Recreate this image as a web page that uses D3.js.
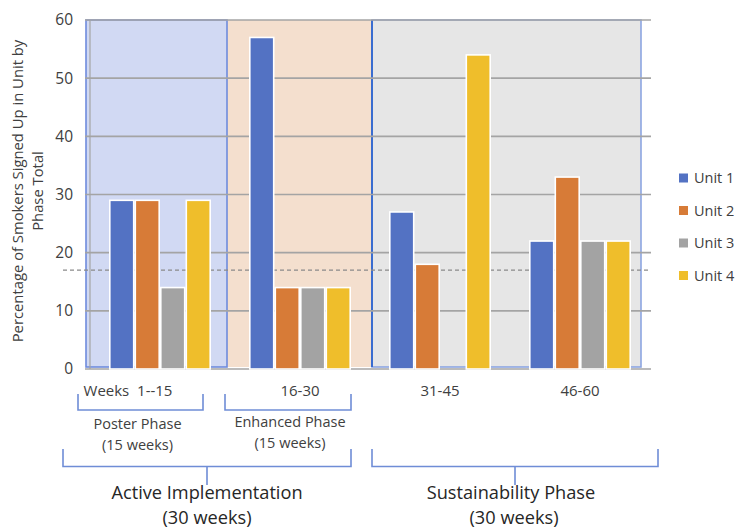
<!DOCTYPE html>
<html>
<head>
<meta charset="utf-8">
<script src="https://cdn.jsdelivr.net/npm/d3@7"></script>
<style>
  html, body { margin: 0; padding: 0; background: #ffffff; }
  svg { display: block; font-family: "Open Sans", "Noto Sans", sans-serif; }
</style>
</head>
<body>
<svg id="chart" width="740" height="530"></svg>
<script>
// Sign-up share per unit, by 15-week period
const categories = ["Weeks  1--15", "16-30", "31-45", "46-60"];
const units = ["Unit 1", "Unit 2", "Unit 3", "Unit 4"];
const unit1 = [29, 57, 27, 22];
const unit2 = [29, 14, 18, 33];
const unit3 = [14, 14, 0, 22];
const unit4 = [29, 14, 54, 22];
const unitColors = ["#5372c3", "#d77b37", "#a3a3a3", "#efbe2b"];
const yTicks = [0, 10, 20, 30, 40, 50, 60];
const referenceLevel = 17;

// Background phase shading
const phaseNames = ["Poster", "Enhanced", "Sustainability"];
const phaseFills = ["#d1d9f3", "#f4dfce", "#e6e6e6"];

// Bracket annotations beneath the axis
const subPhaseLabels = [["Poster Phase", "(15 weeks)"], ["Enhanced Phase", "(15 weeks)"]];
const mainPhaseLabels = [["Active Implementation", "(30 weeks)"], ["Sustainability Phase", "(30 weeks)"]];

const series = units.map((u, i) => ({ unit: u, values: [unit1, unit2, unit3, unit4][i], color: unitColors[i] }));

const svg = d3.select("#chart");
const plotLeft = 90, plotRight = 650, plotTop = 20, plotBottom = 369;

const x = d3.scaleBand().domain(categories).range([plotLeft, plotRight]);
// the four unit bars sit in the middle ~100px of each category slot
const xInner = d3.scaleBand().domain(units).range([19, x.bandwidth() - 19]);
const y = d3.scaleLinear().domain([0, 60]).range([plotBottom, plotTop]);

// Phase extents in pixels, derived from the category scale
const phaseEdges = [
  [x(categories[0]) - 4, x(categories[1]) - 3],
  [x(categories[1]) - 3, x(categories[2]) + 2],
  [x(categories[2]) + 2, x(categories[3]) + x.bandwidth() - 9]
];
const shadeTop = y(60), shadeBottom = y(0) - 2;

const phaseG = svg.append("g");
phaseNames.forEach((p, i) => {
  phaseG.append("rect")
    .attr("x", phaseEdges[i][0]).attr("y", shadeTop)
    .attr("width", phaseEdges[i][1] - phaseEdges[i][0]).attr("height", shadeBottom - shadeTop)
    .attr("fill", phaseFills[i]);
});
// Phase borders
const borderG = svg.append("g").attr("fill", "none");
borderG.append("rect").attr("x", phaseEdges[0][0]).attr("y", shadeTop)
  .attr("width", phaseEdges[0][1] - phaseEdges[0][0]).attr("height", shadeBottom - shadeTop)
  .attr("stroke", "#6f8bdc").attr("stroke-width", 1.6);
borderG.append("rect").attr("x", phaseEdges[2][0]).attr("y", shadeTop)
  .attr("width", phaseEdges[2][1] - phaseEdges[2][0]).attr("height", shadeBottom - shadeTop)
  .attr("stroke", "#8ca5e2").attr("stroke-width", 1.6);
borderG.append("line").attr("x1", phaseEdges[2][0]).attr("x2", phaseEdges[2][0]).attr("y1", shadeTop).attr("y2", shadeBottom)
  .attr("stroke", "#2f66cf").attr("stroke-width", 1.8);

// Gridlines with outside tick stubs
const gridG = svg.append("g");
gridG.selectAll("line").data(yTicks).join("line")
  .attr("x1", plotLeft - 5).attr("x2", plotRight + 1)
  .attr("y1", d => y(d)).attr("y2", d => y(d))
  .attr("stroke", "#a4a4a4").attr("stroke-width", 1.6);
gridG.append("line").attr("x1", plotLeft).attr("x2", plotLeft).attr("y1", y(60)).attr("y2", y(0))
  .attr("stroke", "#a4a4a4").attr("stroke-width", 1.2);

// Reference level (dashed)
svg.append("line")
  .attr("x1", 63).attr("x2", plotRight)
  .attr("y1", y(referenceLevel)).attr("y2", y(referenceLevel))
  .attr("stroke", "#8a8a8a").attr("stroke-width", 1.2).attr("stroke-dasharray", "4,3");

// Bars
const barG = svg.append("g");
series.forEach(s => {
  barG.selectAll(null).data(s.values.map((v, i) => ({ v, cat: categories[i] })).filter(d => d.v > 0)).join("rect")
    .attr("x", d => x(d.cat) + xInner(s.unit) + 0.8)
    .attr("width", xInner.bandwidth() - 1.6)
    .attr("y", d => y(d.v))
    .attr("height", d => y(0) - y(d.v))
    .attr("fill", s.color)
    .attr("stroke", "#ffffff").attr("stroke-width", 1.6);
});

// Y axis labels
const yAxis = d3.axisLeft(y).tickValues(yTicks).tickSize(0).tickPadding(0);
const yAxisG = svg.append("g").attr("transform", `translate(${plotLeft - 17},0)`).call(yAxis);
yAxisG.select(".domain").remove();
yAxisG.selectAll("text").attr("font-size", 15.5).attr("fill", "#404040").attr("font-family", "'Open Sans', sans-serif");

// Y axis title
const yTitle = svg.append("text")
  .attr("transform", `translate(18,191) rotate(-90)`)
  .attr("text-anchor", "middle").attr("font-size", 14.8).attr("fill", "#404040");
yTitle.append("tspan").attr("x", 0).attr("dy", "0.35em").text("Percentage of Smokers Signed Up in Unit by");
yTitle.append("tspan").attr("x", 0).attr("dy", 20).text("Phase Total");

// Category labels
const xAxis = d3.axisBottom(x).tickSize(0).tickPadding(0);
const xAxisG = svg.append("g").attr("transform", `translate(0,${y(0) + 16})`).call(xAxis);
xAxisG.select(".domain").remove();
xAxisG.selectAll("text").attr("font-size", 15).attr("fill", "#404040").attr("font-family", "'Open Sans', sans-serif")
  .attr("dx", (d, i) => i === 0 ? -32 : 0)
  .attr("xml:space", "preserve");

// Brackets
const bracketColor = "#6f8dd6";
const annG = svg.append("g");
function bracket(x1, x2, yTop, yBot, stemTo) {
  const p = d3.path();
  p.moveTo(x1, yTop); p.lineTo(x1, yBot); p.lineTo(x2, yBot); p.lineTo(x2, yTop);
  if (stemTo) { const m = (x1 + x2) / 2; p.moveTo(m, yBot); p.lineTo(m, stemTo); }
  annG.append("path").attr("d", p.toString()).attr("fill", "none").attr("stroke", bracketColor).attr("stroke-width", 1.6);
}
const subBr = [[x(categories[0]) - 12, x(categories[0]) + 113], [x(categories[1]) - 5, x(categories[1]) + 121]];
subBr.forEach((b, i) => {
  bracket(b[0], b[1], 394, 410, null);
  const cx = (b[0] + b[1]) / 2 + (i === 0 ? -3 : 2);
  const t = annG.append("text").attr("text-anchor", "middle").attr("font-size", 14.5).attr("fill", "#404040");
  t.append("tspan").attr("x", cx).attr("y", i === 0 ? 429 : 427).text(subPhaseLabels[i][0]);
  t.append("tspan").attr("x", cx).attr("dy", 21).text(subPhaseLabels[i][1]);
});
const mainBr = [[x(categories[0]) - 27, x(categories[1]) + 121], [x(categories[2]) + 2, x(categories[3]) + x.bandwidth() + 8]];
mainBr.forEach((b, i) => {
  bracket(b[0], b[1], 449, 466.5, 485);
  const cx = (b[0] + b[1]) / 2 - (i === 1 ? 4 : 0);
  const t = annG.append("text").attr("text-anchor", "middle").attr("font-size", 18.2).attr("fill", "#262626");
  t.append("tspan").attr("x", cx).attr("y", 499).text(mainPhaseLabels[i][0]);
  t.append("tspan").attr("x", cx + (i === 1 ? 3 : 0)).attr("y", 524.3).text(mainPhaseLabels[i][1]);
});

// Legend
const legend = svg.append("g").attr("transform", "translate(679,178)");
series.forEach((s, i) => {
  const g = legend.append("g").attr("transform", `translate(0,${i * 32.5})`);
  g.append("rect").attr("x", 0).attr("y", -4.5).attr("width", 9).attr("height", 9).attr("fill", s.color);
  g.append("text").attr("x", 15).attr("dy", "0.35em").attr("font-size", 14.5).attr("fill", "#404040").text(s.unit);
});
</script>
</body>
</html>
